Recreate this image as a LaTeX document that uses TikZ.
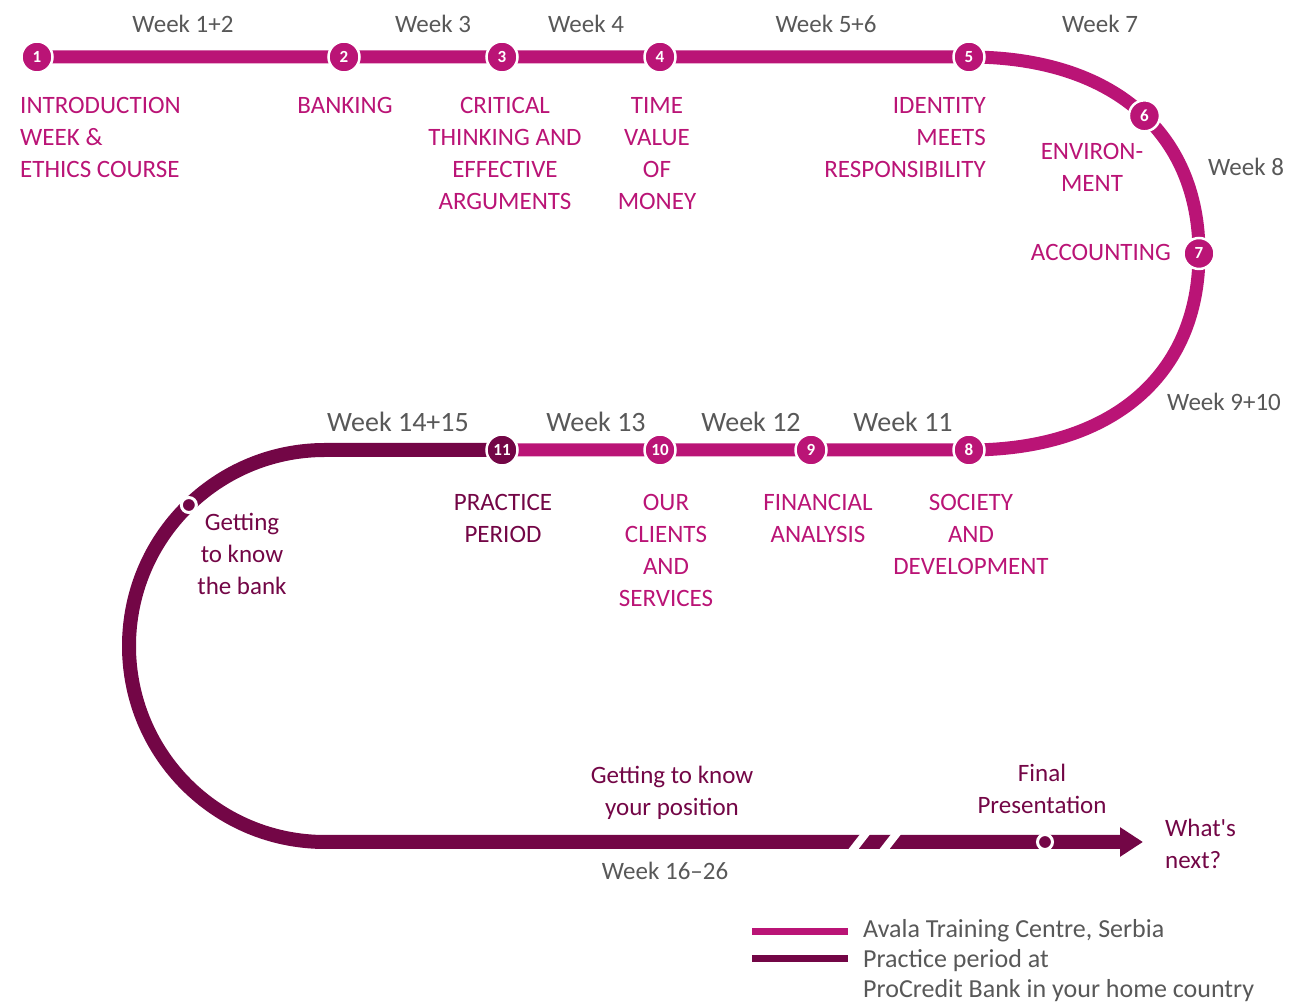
\documentclass[tikz,border=0pt]{standalone}
\usepackage{fontspec}
\setmainfont{Carlito}
\usetikzlibrary{arrows.meta,positioning,backgrounds,calc}
\definecolor{avala}{RGB}{186,20,118}
\definecolor{practice}{RGB}{115,6,70}
\definecolor{weekgray}{RGB}{88,88,88}

\begin{document}
\begin{tikzpicture}[
		x=1pt, y=1pt,
		stop/.style={circle, fill=#1, draw=white, line width=2.5pt, minimum size=31pt, inner sep=0pt, text=white, font=\fontsize{17}{17}\selectfont\bfseries},
		stop/.default=avala,
		milestone/.style={circle, fill=practice, draw=white, line width=3pt, minimum size=15pt, inner sep=0pt},
		topic/.style={text=#1, font=\fontsize{25}{32}\selectfont, align=center, inner sep=0pt, anchor=north},
		topic/.default=avala,
		week/.style={text=weekgray, font=\fontsize{25}{32}\selectfont, inner sep=0pt, anchor=north},
		bigweek/.style={week, font=\fontsize{28}{32}\selectfont},
		legend/.style={text=weekgray, font=\fontsize{26}{30}\selectfont, align=left, inner sep=0pt, anchor=north west},
		trainline/.style={draw=avala, line width=13pt},
		homeline/.style={draw=practice, line width=14pt}
		]
		\useasboundingbox (0,0) rectangle (1301,1003);
		
		% bend on the right, stop 6 sits on it
		\path (969,946) .. controls (1111.6,946) and (1199,871.3) .. (1199,749.5) coordinate[pos=0.53] (k6);
		
		% stops of the training centre
		\node[stop] (s1) at (37,946) {1};
		\node[stop] (s2) at (344,946) {2};
		\node[stop] (s3) at (502,946) {3};
		\node[stop] (s4) at (660,946) {4};
		\node[stop] (s5) at (969,946) {5};
		\node[stop] (s6) at (k6) {6};
		\node[stop] (s7) at (1199,749.5) {7};
		\node[stop] (s8) at (969,553) {8};
		\node[stop] (s9) at (811,553) {9};
		\node[stop] (s10) at (660,553) {10};
		\node[stop=practice] (s11) at (502,553) {11};
		
		\node[milestone] (m1) at ($(325,357)+(134:196pt)$) {};
		\node[milestone] (m2) at (1045,161) {};
		
		\begin{scope}[on background layer]
			\draw[trainline] (s1.center) -- (s5.center)
				.. controls (1111.6,946) and (1199,871.3) .. (s7.center)
				.. controls (1199,627.7) and (1111.6,553) .. (s8.center) -- (s11.center);
			\draw[homeline, -{Triangle[length=23pt, width=28pt]}] (s11.center) -- (325,553) arc[start angle=90, end angle=270, radius=196pt] -- (1143,161);
		\end{scope}
		
		% break in the time line
		\fill[white] (847,152) -- (857,152) -- (871,170) -- (861,170) -- cycle;
		\fill[white] (878,152) -- (888,152) -- (902,170) -- (892,170) -- cycle;
		
		% weeks
		\node[week] (w12) at (183,988) {Week 1+2};
		\node[week] (w3) at (433,988) {Week 3};
		\node[week] (w4) at (586,988) {Week 4};
		\node[week] (w56) at (826,988) {Week 5+6};
		\node[week] (w7) at (1100,988) {Week 7};
		\node[week] (w8) at (1246,845) {Week 8};
		\node[week] (w910) at (1224,610) {Week 9+10};
		\node[bigweek] (w11) at (903,591) {Week 11};
		\node[bigweek] (w12b) at (751,591) {Week 12};
		\node[bigweek] (w13) at (596,591) {Week 13};
		\node[bigweek] (w1415) at (398,591) {Week 14+15};
		\node[week] (w1626) at (665,141) {Week 16--26};
		
		% topics
		\node[topic, anchor=north west, align=left] (t1) at (20,906) {INTRODUCTION\\WEEK \&\\ETHICS COURSE};
		\node[topic] (t2) at (345,906) {BANKING};
		\node[topic] (t3) at (505,906) {CRITICAL\\THINKING AND\\EFFECTIVE\\ARGUMENTS};
		\node[topic] (t4) at (657,906) {TIME\\VALUE\\OF\\MONEY};
		\node[topic, anchor=north east, align=right] (t5) at (986,906) {IDENTITY\\MEETS\\RESPONSIBILITY};
		\node[topic] (t6) at (1092,860) {ENVIRON-\\MENT};
		\node[topic, anchor=north east] (t7) at (1171,759) {ACCOUNTING};
		\node[topic] (t8) at (971,509) {SOCIETY\\AND\\DEVELOPMENT};
		\node[topic] (t9) at (818,509) {FINANCIAL\\ANALYSIS};
		\node[topic] (t10) at (666,509) {OUR\\CLIENTS\\AND\\SERVICES};
		\node[topic=practice] (t11) at (503,509) {PRACTICE\\PERIOD};
		
		% practice period
		\node[topic=practice] (g1) at (242,490) {Getting\\to know\\the bank};
		\node[topic=practice] (g2) at (672,237) {Getting to know\\your position};
		\node[topic=practice] (g3) at (1042,239) {Final\\Presentation};
		\node[topic=practice, anchor=north west, align=left] (g4) at (1165,184) {What\textquotesingle s\\next?};
		
		% legend
		\node[legend] (l1) at (863,84) {Avala Training Centre, Serbia};
		\node[legend] (l2) at (863,54) {Practice period at\\ProCredit Bank in your home country};
		\draw[trainline, line width=7pt] (752,71) -- (848,71);
		\draw[homeline, line width=7pt] (752,44) -- (848,44);
		
	\end{tikzpicture}
\end{document}
